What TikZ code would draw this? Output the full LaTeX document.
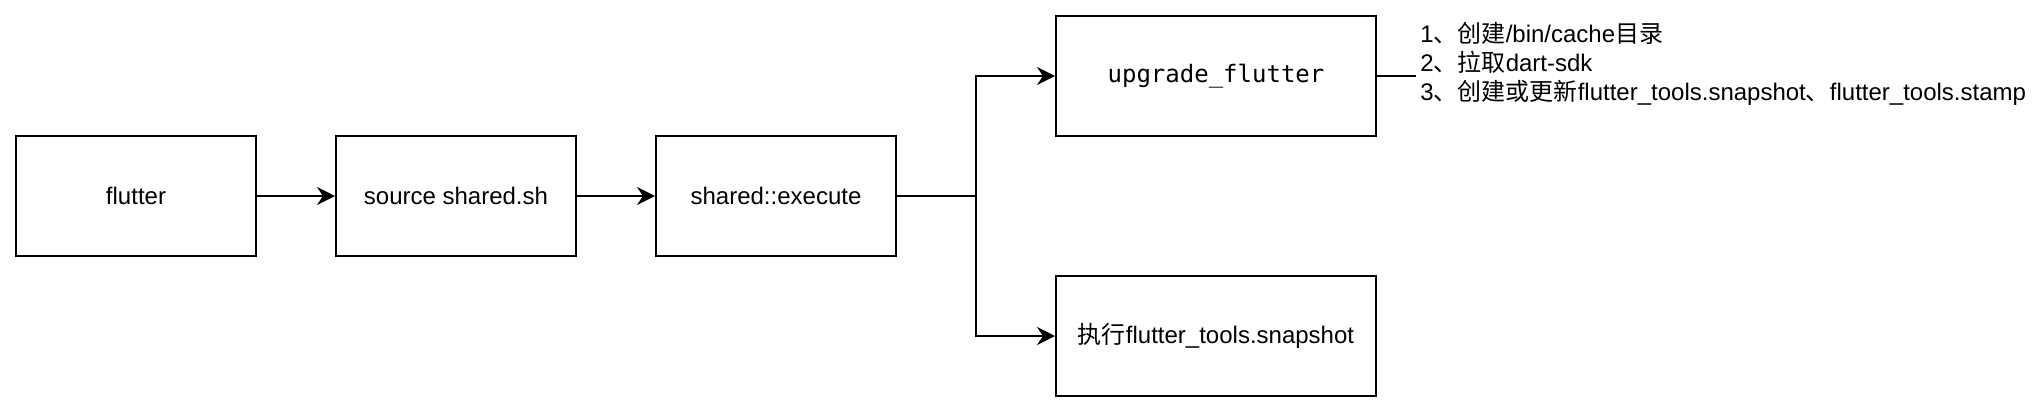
\documentclass[tikz,border=0pt]{standalone}
\usepackage{fontspec}
\setmainfont{Liberation Sans}
\newfontfamily\cjk{Noto Sans CJK SC}
\newfontfamily\monof{DejaVu Sans Mono}
\usetikzlibrary{arrows.meta}
\begin{document}
\begin{tikzpicture}[x=0.5pt,y=-0.5pt,
  box/.style={draw=black,line width=1pt,minimum width=120pt,minimum height=60pt,inner sep=0pt,font=\fontsize{12pt}{14.4pt}\selectfont},
  widebox/.style={box,minimum width=160pt},
  arr/.style={draw=black,line width=1pt,-{Stealth[length=9pt,width=9pt,inset=3pt]}},
  conn/.style={draw=black,line width=1pt},
  note/.style={align=left,inner sep=0pt,anchor=west,font=\fontsize{12pt}{14.4pt}\selectfont}]
\useasboundingbox[fill=white] (0,0) rectangle (2043,414);
\node[box] (flutter) at (136,196) {flutter};
\node[box] (source) at (456,196) {source shared.sh};
\node[box] (shared) at (776,196) {shared::execute};
\node[widebox] (upgrade) at (1216,76) {\monof upgrade\_flutter};
\node[widebox] (snap) at (1216,336) {{\cjk 执行}flutter\_tools.snapshot};
\coordinate (br) at (976,196);
\coordinate (ne) at (1416,76);
\node[note] (notes) at (1420,64) {1{\cjk 、创建}/bin/cache{\cjk 目录}\\2{\cjk 、拉取}dart-sdk\\3{\cjk 、创建或更新}flutter\_tools.snapshot{\cjk 、}flutter\_tools.stamp};
\draw[arr] (flutter) -- (source);
\draw[arr] (source) -- (shared);
\draw[conn] (shared.east) -- (br);
\draw[arr] (br) |- (upgrade.west);
\draw[arr] (br) |- (snap.west);
\draw[conn] (upgrade.east) -- (ne);
\end{tikzpicture}
\end{document}
